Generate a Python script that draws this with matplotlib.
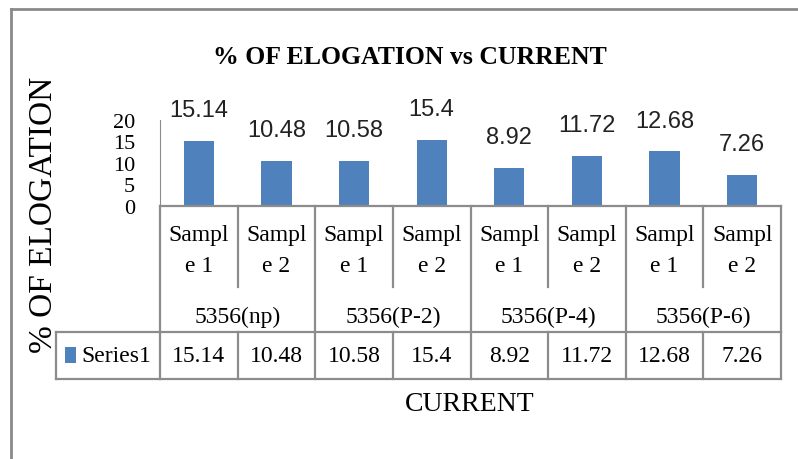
import matplotlib
matplotlib.use("Agg")
import matplotlib.pyplot as plt
from matplotlib.lines import Line2D
from matplotlib.patches import Rectangle

# data
samples = ["Sampl\ne 1", "Sampl\ne 2"] * 4
groups = ["5356(np)", "5356(P-2)", "5356(P-4)", "5356(P-6)"]
values = [15.14, 10.48, 10.58, 15.4, 8.92, 11.72, 12.68, 7.26]
series_name = "Series1"
yticks = [0, 5, 10, 15, 20]

W, H = 798, 460
BAR = "#4F81BD"
GRID = "#8c8c8c"
SERIF = "Liberation Serif"

fig = plt.figure(figsize=(W / 100, H / 100), dpi=100)


def px(x, y):
    # pixel coords (top-left origin) -> figure fraction
    return x / W, 1 - y / H


def hline(x0, x1, y, **kw):
    a, b = px(x0, y)
    c, _ = px(x1, y)
    fig.add_artist(Line2D([a, c], [b, b], transform=fig.transFigure, **kw))


def vline(x, y0, y1, **kw):
    a, b = px(x, y0)
    _, d = px(x, y1)
    fig.add_artist(Line2D([a, a], [b, d], transform=fig.transFigure, **kw))


# outer chart border
hline(11, W, 10, color="#8a8a8a", lw=2)
vline(11, 10, H, color="#8a8a8a", lw=2)

# plot area
left, right, base, top = 160, 781, 207, 121
ax = fig.add_axes([left / W, 1 - base / H, (right - left) / W, (base - top) / H])
n = len(values)
xs = list(range(n))
ax.bar(xs, values, width=0.39, color=BAR)
ax.set_xlim(-0.5, n - 0.5)
ax.set_ylim(0, 20)
ax.set_yticks(yticks)
ax.set_yticklabels([str(t) for t in yticks], fontfamily=SERIF, fontsize=16)
ax.tick_params(axis="y", length=0, pad=18)
ax.set_xticks([])
for s in ["top", "right", "bottom"]:
    ax.spines[s].set_visible(False)
ax.spines["left"].set_color(GRID)
ax.patch.set_alpha(0)
for x, v in zip(xs, values):
    ax.annotate(f"{v:g}", (x, v), xytext=(0, 14), textcoords="offset points",
                ha="center", va="bottom", fontsize=17,
                fontfamily="Liberation Sans", color="#222222")

# title / axis titles
fig.text(*px(410, 57), "% OF ELOGATION vs CURRENT", ha="center", va="center",
         fontfamily=SERIF, fontweight="bold", fontsize=18.5)
fig.text(*px(470, 405), "CURRENT", ha="center", va="center",
         fontfamily=SERIF, fontsize=20)
fig.text(*px(44, 215), "% OF ELOGATION", ha="center", va="center", rotation=90,
         fontfamily=SERIF, fontsize=24)

# data table under the axis
cw = (right - left) / n
row1, row2, row3 = 288, 333, 380
lkw = dict(color=GRID, lw=1.6)
hline(left, right, base, **lkw)
hline(56, right, row2, **lkw)
hline(56, right, row3, **lkw)
vline(56, row2, row3, **lkw)
for k in range(n + 1):
    xk = left + k * cw
    if k % 2 == 0:
        vline(xk, base, row3, **lkw)
    else:
        vline(xk, base, row1, **lkw)
        vline(xk, row2, row3, **lkw)

for i, lab in enumerate(samples):
    cx = left + (i + 0.5) * cw
    fig.text(*px(cx, 251), lab, ha="center", va="center", fontfamily=SERIF,
             fontsize=17, linespacing=1.65)
for g, lab in enumerate(groups):
    cx = left + (2 * g + 1) * cw
    fig.text(*px(cx, 317), lab, ha="center", va="center", fontfamily=SERIF, fontsize=17)
for i, v in enumerate(values):
    cx = left + (i + 0.5) * cw
    fig.text(*px(cx, 357), f"{v:g}", ha="center", va="center", fontfamily=SERIF, fontsize=17)

# legend key in the series row
kx, ky = px(65, 364)
fig.add_artist(Rectangle((kx, ky), 11 / W, 16 / H, transform=fig.transFigure,
                         color=BAR, lw=0))
fig.text(*px(81, 357), series_name, ha="left", va="center", fontfamily=SERIF, fontsize=17)

fig.savefig("out.png", dpi=100)
